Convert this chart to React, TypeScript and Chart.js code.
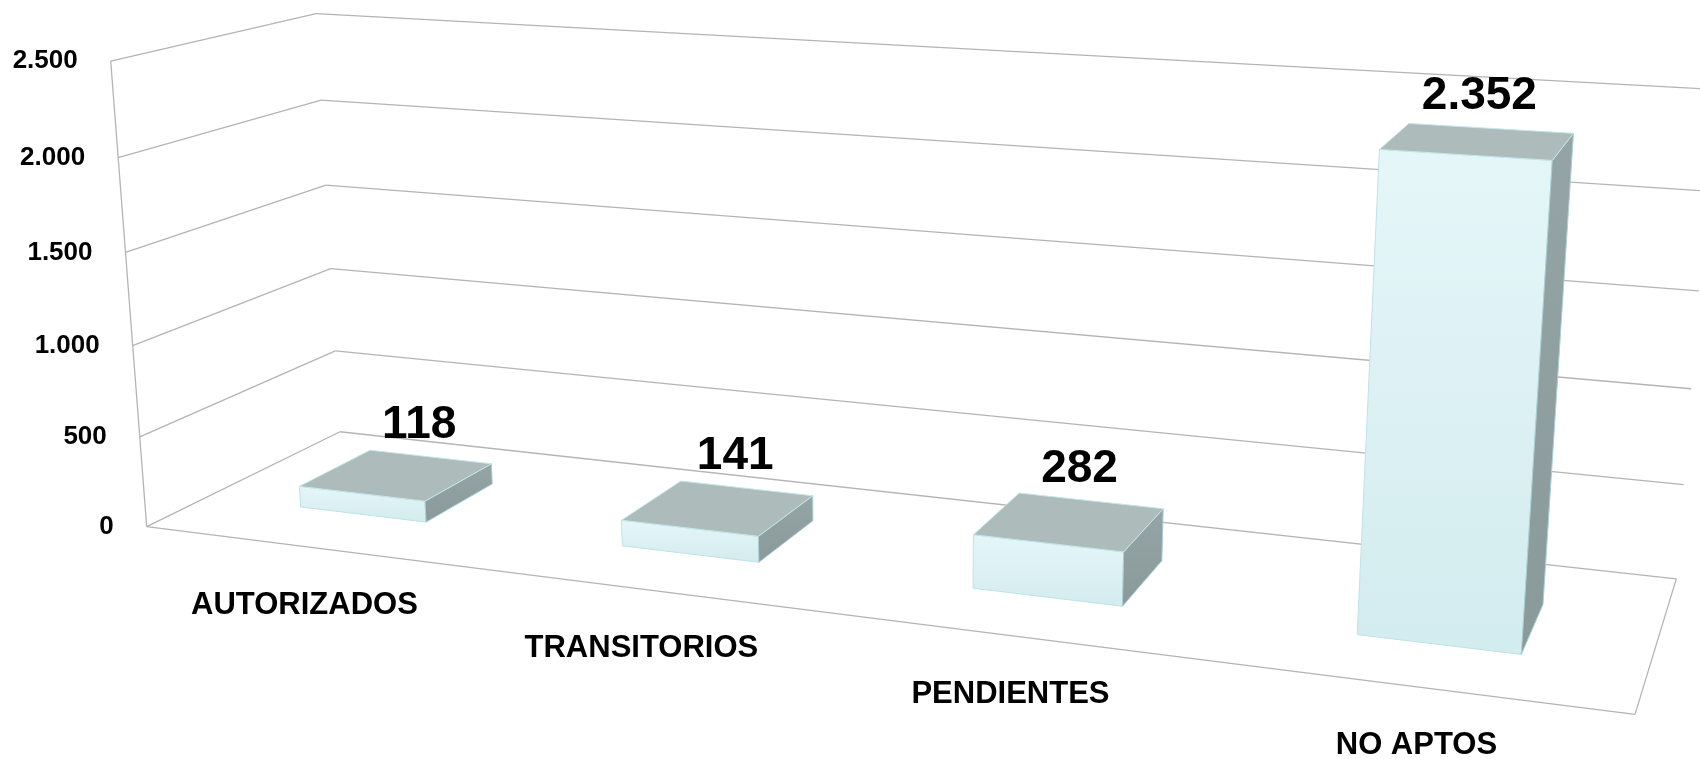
import React, { useEffect, useRef } from "react";
import { Chart, registerables } from "chart.js";

Chart.register(...registerables);

// ---- data ----
const categories: string[] = ["AUTORIZADOS", "TRANSITORIOS", "PENDIENTES", "NO APTOS"];
const values: number[] = [118, 141, 282, 2352];
const yTickValues: number[] = [0, 500, 1000, 1500, 2000, 2500];
const yMin = 0;
const yMax = 2500;
const yStep = 500;

// ---- perspective camera (3-point perspective of the 3D box) ----
const ORIGIN = [146.7, 526.7];
const VP_X = [-7106, -388];
const L_X = -0.17027;
const VP_Y = [910, 10400];
const L_Y = -0.04504;
const VP_Z = [1964, -366];
const L_Z = 0.11903;
const BAR_Z_FRONT = 0.3;
const BAR_Z_BACK = 0.68;

const FONT = '"Liberation Sans", Arial, Helvetica, sans-serif';

function project(X: number, Y: number, Z: number): [number, number] {
  const a = L_X * X;
  const b = L_Y * Y;
  const c = L_Z * Z;
  const w = 1 + a + b + c;
  return [
    (ORIGIN[0] + a * VP_X[0] + b * VP_Y[0] + c * VP_Z[0]) / w,
    (ORIGIN[1] + a * VP_X[1] + b * VP_Y[1] + c * VP_Z[1]) / w,
  ];
}

function fmt(v: number): string {
  return String(v).replace(/\B(?=(\d{3})+(?!\d))/g, ".");
}

function line(ctx: CanvasRenderingContext2D, p: [number, number], q: [number, number]) {
  ctx.beginPath();
  ctx.moveTo(p[0], p[1]);
  ctx.lineTo(q[0], q[1]);
  ctx.stroke();
}

function poly(ctx: CanvasRenderingContext2D, pts: [number, number][]) {
  ctx.beginPath();
  ctx.moveTo(pts[0][0], pts[0][1]);
  for (let i = 1; i < pts.length; i++) ctx.lineTo(pts[i][0], pts[i][1]);
  ctx.closePath();
}

const perspectivePlugin = {
  id: "perspective3d",
  beforeDatasetsDraw(chart: any) {
    const ctx: CanvasRenderingContext2D = chart.ctx;
    const area = chart.chartArea;
    const ys = chart.scales.y;
    const normY = (v: number) => (area.bottom - ys.getPixelForValue(v)) / (area.bottom - area.top);
    ctx.save();
    ctx.strokeStyle = "#b4b4b4";
    ctx.lineWidth = 1.3;
    // gridlines on back wall and left wall
    for (const t of yTickValues) {
      const Y = normY(t);
      line(ctx, project(0, Y, 0), project(0, Y, 1));
      line(ctx, project(0, Y, 1), project(1, Y, 1));
    }
    // left wall front edge
    line(ctx, project(0, 0, 0), project(0, 1, 0));
    // floor front and right edges
    line(ctx, project(0, 0, 0), project(1, 0, 0));
    line(ctx, project(1, 0, 0), project(1, 0, 1));
    // tick labels
    ctx.fillStyle = "#000";
    ctx.font = `bold 26px ${FONT}`;
    ctx.textAlign = "right";
    ctx.textBaseline = "middle";
    for (const t of yTickValues) {
      const p = project(0, normY(t), 0);
      ctx.fillText(fmt(t), p[0] - 33, p[1]);
    }
    ctx.restore();
  },
  beforeDatasetDraw(chart: any, args: any) {
    const ctx: CanvasRenderingContext2D = chart.ctx;
    const area = chart.chartArea;
    const meta = chart.getDatasetMeta(args.index);
    const nx = (px: number) => (px - area.left) / (area.right - area.left);
    const ny = (py: number) => (area.bottom - py) / (area.bottom - area.top);
    ctx.save();
    meta.data.forEach((el: any) => {
      const p = el.getProps(["x", "y", "base", "width"], true);
      const x0 = nx(p.x - p.width / 2);
      const x1 = nx(p.x + p.width / 2);
      const y0 = ny(p.base);
      const y1 = ny(p.y);
      const zf = BAR_Z_FRONT;
      const zb = BAR_Z_BACK;
      // front face
      const f = [project(x0, y0, zf), project(x1, y0, zf), project(x1, y1, zf), project(x0, y1, zf)] as [number, number][];
      const gTop = Math.min(f[2][1], f[3][1]);
      const gBot = Math.max(f[0][1], f[1][1]);
      const gf = ctx.createLinearGradient(0, gTop, 0, gBot);
      gf.addColorStop(0, "#e5f6f8");
      gf.addColorStop(1, "#d3ecef");
      poly(ctx, f);
      ctx.fillStyle = gf;
      ctx.fill();
      ctx.strokeStyle = "#bfe2e7";
      ctx.lineWidth = 1;
      ctx.stroke();
      // side face (right)
      const s = [project(x1, y0, zf), project(x1, y0, zb), project(x1, y1, zb), project(x1, y1, zf)] as [number, number][];
      poly(ctx, s);
      const gs = ctx.createLinearGradient(0, Math.min(s[2][1], s[3][1]), 0, Math.max(s[0][1], s[1][1]));
      gs.addColorStop(0, "#95a5a5");
      gs.addColorStop(1, "#8a9a9a");
      ctx.fillStyle = gs;
      ctx.fill();
      ctx.strokeStyle = "#a9cfd4";
      ctx.stroke();
      // top face
      const tp = [project(x0, y1, zf), project(x1, y1, zf), project(x1, y1, zb), project(x0, y1, zb)] as [number, number][];
      poly(ctx, tp);
      ctx.fillStyle = "#adbcbb";
      ctx.fill();
      ctx.strokeStyle = "#c3e6ea";
      ctx.stroke();
    });
    ctx.restore();
    return false;
  },
  afterDatasetsDraw(chart: any) {
    const ctx: CanvasRenderingContext2D = chart.ctx;
    const area = chart.chartArea;
    const xs = chart.scales.x;
    const meta = chart.getDatasetMeta(0);
    const nx = (px: number) => (px - area.left) / (area.right - area.left);
    const ny = (py: number) => (area.bottom - py) / (area.bottom - area.top);
    ctx.save();
    ctx.fillStyle = "#000";
    ctx.textAlign = "center";
    ctx.textBaseline = "middle";
    // category labels along floor front edge
    ctx.font = `bold 31px ${FONT}`;
    categories.forEach((c, i) => {
      const p = project(nx(xs.getPixelForValue(i)), 0, 0);
      ctx.fillText(c, p[0], p[1] + 59);
    });
    // value labels
    ctx.font = `bold 46px ${FONT}`;
    meta.data.forEach((el: any, i: number) => {
      const p = el.getProps(["x", "y"], true);
      const q = project(nx(p.x), ny(p.y), BAR_Z_BACK);
      ctx.fillText(fmt(values[i]), q[0] - 11, q[1] - 32);
    });
    ctx.restore();
  },
};

export default function App() {
  const ref = useRef<HTMLCanvasElement | null>(null);
  useEffect(() => {
    if (!ref.current) return;
    const chart = new Chart(ref.current, {
      type: "bar",
      data: {
        labels: categories,
        datasets: [
          {
            data: values,
            backgroundColor: "#dbeff2",
            categoryPercentage: 1,
            barPercentage: 0.4,
          },
        ],
      },
      options: {
        responsive: false,
        animation: false,
        devicePixelRatio: 1,
        layout: { padding: 0 },
        events: [],
        plugins: { legend: { display: false }, tooltip: { enabled: false } },
        scales: {
          x: { type: "category", display: false, offset: true, grid: { display: false } },
          y: { type: "linear", display: false, min: yMin, max: yMax, ticks: { stepSize: yStep } },
        },
      },
      plugins: [perspectivePlugin],
    } as any);
    return () => chart.destroy();
  }, []);
  return (
    <div style={{ position: "fixed", left: 0, top: 0, width: 1700, height: 759, background: "#fff" }}>
      <canvas ref={ref} width={1700} height={759} style={{ display: "block", width: 1700, height: 759 }} />
    </div>
  );
}
